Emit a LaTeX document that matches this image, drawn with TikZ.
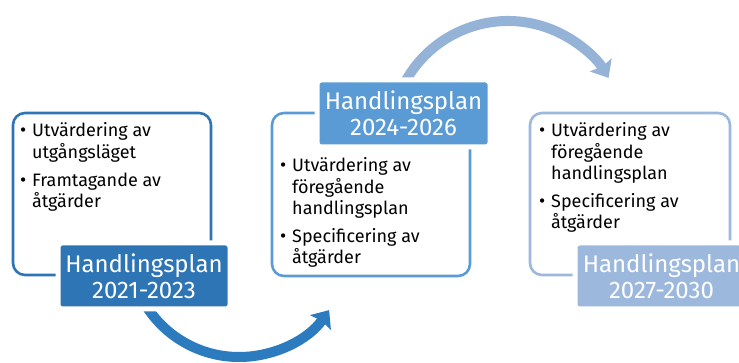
\documentclass[tikz,border=0pt]{standalone}
\usepackage{fontspec}
\setmainfont{Fira Sans}
\usetikzlibrary{arrows.meta,calc}
\definecolor{cA}{HTML}{2E75B6}
\definecolor{cB}{HTML}{5B9BD5}
\definecolor{cC}{HTML}{9DB8DD}
\definecolor{arA}{HTML}{2C7BBF}
\definecolor{arB}{HTML}{95B3D7}
\newcommand{\bul}{\makebox[11pt][l]{\fontsize{19}{19}\selectfont\hspace{-1pt}•}}
\tikzset{
  outbox/.style={draw=#1, line width=2.6pt, rounded corners=12pt, fill=white, inner sep=0pt},
  lblbox/.style={fill=#1, draw=white, line width=5pt, rounded corners=4pt, inner sep=0pt,
    text=white, align=center, font=\fontsize{24}{26}\selectfont},
  bodytext/.style={anchor=base west, inner sep=0pt, font=\fontsize{18}{21.3}\selectfont},
  arcline/.style={draw=#1, line width=10pt, -{Stealth[length=15pt,width=25pt,inset=2pt]}}
}
\begin{document}
\begin{tikzpicture}[x=1pt,y=-1pt]
\useasboundingbox (0,0) rectangle (739,363);
\clip (0,0) rectangle (739,363);
\fill[white] (0,0) rectangle (739,363);
% outline boxes
\node[outbox=cA, minimum width=198pt, minimum height=162pt] (b1) at (112,194) {};
\node[outbox=cB, minimum width=198pt, minimum height=163pt] (b2) at (371,194.5) {};
\node[outbox=cC, minimum width=200pt, minimum height=162pt] (b3) at (630,194) {};
% body texts
\node[bodytext] (t1) at (21,137) {\begin{tabular}[t]{@{}l@{}l@{}}\bul&Utvärdering av\\&utgångsläget\\[6.5pt]\bul&Framtagande av\\&åtgärder\end{tabular}};
\node[bodytext] (t2) at (281,172) {\begin{tabular}[t]{@{}l@{}l@{}}\bul&Utvärdering av\\&föregående\\&handlingsplan\\[6.5pt]\bul&Specificering av\\&åtgärder\end{tabular}};
\node[bodytext] (t3) at (540,137) {\begin{tabular}[t]{@{}l@{}l@{}}\bul&Utvärdering av\\&föregående\\&handlingsplan\\[6.5pt]\bul&Specificering av\\&åtgärder\end{tabular}};
% arcs
\coordinate (s1) at ($(239,247)+(150:110)$);
\coordinate (s2) at ($(508,138.3)+(205:117.3)$);
\draw[arcline=arA] (s1) arc[start angle=150, end angle=35, radius=110] coordinate (e1);
\draw[arcline=arB] (s2) arc[start angle=205, end angle=329, radius=117.3] coordinate (e2);
% labels
\node[lblbox=cA, minimum width=172pt, minimum height=66pt] (l1) at (144,276) {Handlingsplan\\2021-2023};
\node[lblbox=cB, minimum width=173pt, minimum height=67pt] (l2) at (403.5,113.5) {Handlingsplan\\2024-2026};
\node[lblbox=cC, minimum width=173pt, minimum height=66pt] (l3) at (661.5,276) {Handlingsplan\\2027-2030};
\end{tikzpicture}
\end{document}
